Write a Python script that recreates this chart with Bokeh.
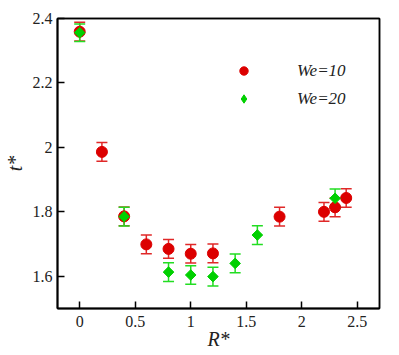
import numpy as np
from bokeh.plotting import figure
from bokeh.models import (ColumnDataSource, Whisker, TeeHead, FixedTicker, LinearAxis,
                          Legend, LegendItem, Range1d)
from bokeh.embed import file_html
from bokeh.resources import INLINE

# ---- data ----
r_we10 = [0.0, 0.2, 0.4, 0.6, 0.8, 1.0, 1.2, 1.8, 2.2, 2.3, 2.4]
t_we10 = [2.359, 1.986, 1.786, 1.699, 1.685, 1.670, 1.671, 1.785, 1.800, 1.814, 1.843]
e_we10 = [0.029, 0.029, 0.029, 0.029, 0.029, 0.029, 0.029, 0.029, 0.029, 0.029, 0.029]

r_we20 = [0.0, 0.4, 0.8, 1.0, 1.2, 1.4, 1.6, 2.3]
t_we20 = [2.356, 1.785, 1.613, 1.604, 1.599, 1.640, 1.728, 1.842]
e_we20 = [0.027, 0.029, 0.029, 0.029, 0.029, 0.029, 0.029, 0.029]

x_ticks = [0, 0.5, 1, 1.5, 2, 2.5]
x_tick_labels = ["0", "0.5", "1", "1.5", "2", "2.5"]
y_ticks = [1.6, 1.8, 2.0, 2.2, 2.4]
y_tick_labels = ["1.6", "1.8", "2", "2.2", "2.4"]
series_labels = ["We=10", "We=20"]
x_title = "R*"
y_title = "t*"

RED = "#dc0000"
RED_ERR = "#e02828"
GREEN = "#00d000"
GREEN_ERR = "#22dd22"
TXT = "#222222"
FONT = "Liberation Serif"

p = figure(width=399, height=355, output_backend="svg", toolbar_location=None,
           x_range=Range1d(-0.2, 2.7), y_range=Range1d(1.5, 2.4),
           min_border_left=52, min_border_right=20, min_border_top=18, min_border_bottom=47)
p.xgrid.visible = False
p.ygrid.visible = False
p.outline_line_color = "black"
p.outline_line_width = 1.5
p.background_fill_color = "white"
p.border_fill_color = "white"

for ax in (p.xaxis[0], p.yaxis[0]):
    ax.axis_line_width = 2
    ax.axis_line_color = "black"
    ax.major_tick_in = 7
    ax.major_tick_out = 0
    ax.major_tick_line_width = 1.5
    ax.minor_tick_line_color = None
    ax.major_label_text_font = FONT
    ax.major_label_text_font_size = "16px"
    ax.major_label_text_color = TXT
    ax.axis_label_text_font = FONT
    ax.axis_label_text_font_style = "italic"
    ax.axis_label_text_font_size = "20px"
    ax.axis_label_text_color = TXT

p.xaxis.ticker = FixedTicker(ticks=x_ticks)
p.xaxis.major_label_overrides = {t: l for t, l in zip(x_ticks, x_tick_labels)}
p.yaxis.ticker = FixedTicker(ticks=y_ticks)
p.yaxis.major_label_overrides = {t: l for t, l in zip(y_ticks, y_tick_labels)}
p.xaxis.major_label_standoff = 7
p.yaxis.major_label_standoff = 5
p.xaxis.axis_label = x_title
p.yaxis.axis_label = y_title
p.xaxis.axis_label_standoff = -2
p.yaxis.axis_label_standoff = 4

# frame border on top and right
for side in ("above", "right"):
    bax = LinearAxis(ticker=FixedTicker(ticks=[]), axis_line_width=1.5, axis_line_color="black",
                     major_tick_line_color=None, minor_tick_line_color=None,
                     major_label_text_font_size="0px")
    p.add_layout(bax, side)

s10 = ColumnDataSource(dict(x=r_we10, y=t_we10,
                            lo=[a - b for a, b in zip(t_we10, e_we10)],
                            hi=[a + b for a, b in zip(t_we10, e_we10)]))
s20 = ColumnDataSource(dict(x=r_we20, y=t_we20,
                            lo=[a - b for a, b in zip(t_we20, e_we20)],
                            hi=[a + b for a, b in zip(t_we20, e_we20)]))

w10 = Whisker(source=s10, base="x", lower="lo", upper="hi", line_color=RED_ERR, line_width=1.5,
              upper_head=TeeHead(size=11, line_color=RED_ERR, line_width=1.5),
              lower_head=TeeHead(size=11, line_color=RED_ERR, line_width=1.5))
p.add_layout(w10)
r10 = p.scatter("x", "y", source=s10, marker="circle", size=11, fill_color=RED, line_color=RED)

w20 = Whisker(source=s20, base="x", lower="lo", upper="hi", line_color=GREEN_ERR, line_width=1.5,
              upper_head=TeeHead(size=11, line_color=GREEN_ERR, line_width=1.5),
              lower_head=TeeHead(size=11, line_color=GREEN_ERR, line_width=1.5))
p.add_layout(w20)
r20 = p.scatter("x", "y", source=s20, marker="square", angle=np.pi / 4, size=7.5,
                fill_color=GREEN, line_color=GREEN)
# legend-only glyph carrying the diamond symbol (no visible data)
r20_leg = p.scatter(x=[np.nan], y=[np.nan], marker="diamond", size=10,
                    fill_color=GREEN, line_color=GREEN)

legend = Legend(items=[LegendItem(label=series_labels[0], renderers=[r10]),
                       LegendItem(label=series_labels[1], renderers=[r20_leg])],
                location=(176, 199), padding=0, margin=0, spacing=7,
                glyph_width=21, glyph_height=21, label_height=20, label_standoff=43,
                border_line_color=None, background_fill_alpha=0,
                label_text_font=FONT, label_text_font_style="italic",
                label_text_font_size="17px", label_text_color=TXT)
p.add_layout(legend)

open("out.html", "w").write(file_html(p, INLINE))
